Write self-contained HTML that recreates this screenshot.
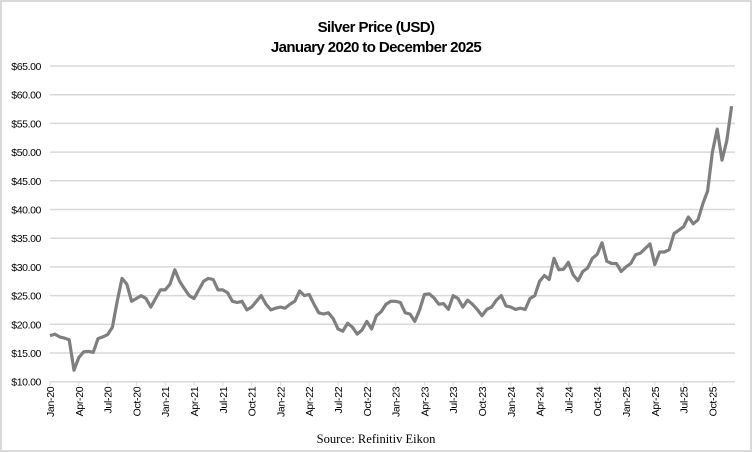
<!DOCTYPE html>
<html><head><meta charset="utf-8"><style>
html,body{margin:0;padding:0;background:#fff;}
#wrap{position:relative;width:752px;height:452px;overflow:hidden;}
svg text{font-family:"Liberation Sans",sans-serif;}
</style></head><body>
<div id="wrap">
<svg id="chart" width="752" height="452" xmlns="http://www.w3.org/2000/svg">
<rect x="1" y="1" width="750" height="450" fill="#fff" stroke="#d9d9d9" stroke-width="2"/>
<text x="376" y="32" text-anchor="middle" font-size="15" font-weight="bold" style="letter-spacing:-0.6px">Silver Price (USD)</text>
<text x="376" y="52" text-anchor="middle" font-size="15" font-weight="bold" style="letter-spacing:-0.6px">January 2020 to December 2025</text>
<g id="grid"></g><g id="xaxis"></g><g id="series"></g>
<text x="376" y="443" text-anchor="middle" font-size="12.5" style="font-family:'Liberation Serif',serif">Source: Refinitiv Eikon</text>
</svg></div>
<script>
// semi-monthly observations starting Jan 2020 (two per month)
const stepMonths = 0.5;
const values = [
18,18.3,17.8,17.6,17.3,12,14.2,15.2,15.3,15.1,17.5,17.8,18.2,19.5,24,28,27,24,24.5,25,24.5,23,24.5,26,
26,27,29.5,27.5,26.2,25,24.5,26,27.5,28,27.8,26,26,25.5,24,23.8,24,22.5,23,24,25,23.5,22.5,22.8,
23,22.8,23.5,24,25.8,25,25.2,23.5,22,21.8,22,21,19.2,18.8,20.2,19.5,18.3,19,20.5,19.2,21.5,22.2,23.5,24,
24,23.8,22,21.8,20.5,22.5,25.2,25.3,24.6,23.5,23.6,22.6,25,24.5,23,24.2,23.5,22.6,21.5,22.6,23,24.2,25,23.2,
23,22.6,22.8,22.6,24.5,25,27.5,28.5,27.8,31.5,29.5,29.6,30.8,28.6,27.6,29.2,29.8,31.5,32.2,34.2,31,30.6,30.6,29.2,
30,30.6,32.1,32.4,33.2,34,30.4,32.6,32.6,33,35.8,36.4,37,38.7,37.5,38.2,41,43.2,50,54,48.6,52,58
];
const yTicks = [10,15,20,25,30,35,40,45,50,55,60,65];
const xLabels = ["Jan-20","Apr-20","Jul-20","Oct-20","Jan-21","Apr-21","Jul-21","Oct-21","Jan-22","Apr-22","Jul-22","Oct-22","Jan-23","Apr-23","Jul-23","Oct-23","Jan-24","Apr-24","Jul-24","Oct-24","Jan-25","Apr-25","Jul-25","Oct-25"];
const xLabelMonths = [0,3,6,9,12,15,18,21,24,27,30,33,36,39,42,45,48,51,54,57,60,63,66,69];

const NS="http://www.w3.org/2000/svg";
const X0=50, PXM=9.6, Y10=381.7, PPD=(381.7-66)/55;
const xs=m=>X0+m*PXM;
const ys=v=>Y10-(v-10)*PPD;
function mk(tag,attrs,parent){const e=document.createElementNS(NS,tag);for(const k in attrs)e.setAttribute(k,attrs[k]);parent.appendChild(e);return e;}
const grid=document.getElementById('grid'), xa=document.getElementById('xaxis'), ser=document.getElementById('series');
yTicks.forEach(v=>{
  const l=mk('line',{x1:X0,x2:735,y1:ys(v),y2:ys(v),stroke:'#d9d9d9','stroke-width':1.5},grid);
  
  
  const t=mk('text',{x:41,y:ys(v)+4,'text-anchor':'end','font-size':10.5,style:'letter-spacing:-0.4px'},grid);
  t.textContent='$'+v.toFixed(2);
  
  
});
xLabels.forEach((lab,i)=>{
  const x=xs(xLabelMonths[i]);
  const tk=mk('line',{x1:x,x2:x,y1:Y10,y2:Y10+4,stroke:'#d9d9d9','stroke-width':1},xa);
  
  
  const t=mk('text',{x:0,y:0,'text-anchor':'end','font-size':10.5,style:'letter-spacing:-0.3px',transform:`translate(${x+4},${Y10+5}) rotate(-90)`},xa);
  t.textContent=lab;
  
  
});
const pts=values.map((v,i)=>xs(i*stepMonths).toFixed(1)+','+ys(v).toFixed(1)).join(' ');
const pl=mk('polyline',{points:pts,fill:'none',stroke:'#7f7f7f','stroke-width':3.2,'stroke-linejoin':'round'},ser);


</script>
</body></html>
